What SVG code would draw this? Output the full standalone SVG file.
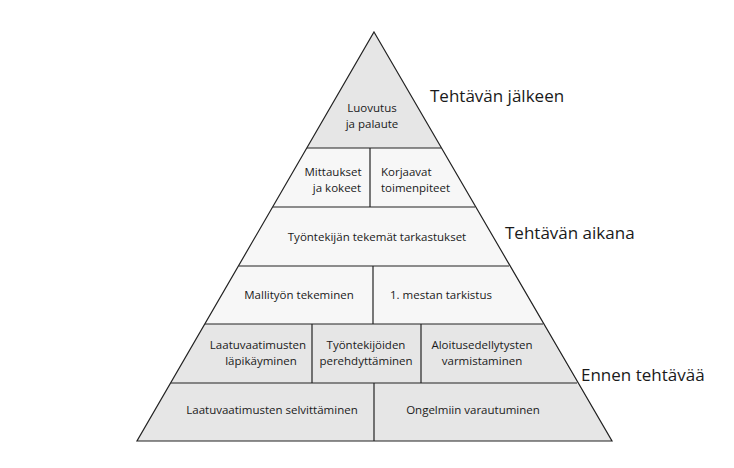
<svg xmlns="http://www.w3.org/2000/svg" width="734" height="468" viewBox="0 0 734 468">
<style>
text{font-family:"Open Sans","Liberation Sans",sans-serif;fill:#1a1a1a}
.t{font-size:11.5px;text-anchor:middle}
.s{font-size:11.5px}
.h{font-size:17px}
.d{fill:#e6e6e6}.l{fill:#f7f7f7}
.ln{stroke:#222;stroke-width:1.2;fill:none}
</style>
<rect width="734" height="468" fill="#fff"/>
<g id="bands">
<polygon class="d" points="374,32 307,148 441,148"/>
<polygon class="l" points="307,148 441,148 475,207 273,207"/>
<polygon class="l" points="273,207 475,207 509,266 239,266"/>
<polygon class="l" points="239,266 509,266 543,324 205,324"/>
<polygon class="d" points="205,324 543,324 577,383 171,383"/>
<polygon class="d" points="171,383 577,383 612,441 137,441"/>
</g>
<g id="connectors">
<polygon class="ln" points="374,32 612,441 137,441"/>
<line class="ln" x1="307" y1="148" x2="441" y2="148" stroke="#888"/>
<line class="ln" x1="273" y1="207" x2="475" y2="207"/>
<line class="ln" x1="239" y1="266" x2="509" y2="266"/>
<line class="ln" x1="205" y1="324" x2="543" y2="324"/>
<line class="ln" x1="171" y1="383" x2="577" y2="383"/>
<line class="ln" x1="370" y1="148" x2="370" y2="207"/>
<line class="ln" x1="373" y1="266" x2="373" y2="324"/>
<line class="ln" x1="312" y1="324" x2="312" y2="383"/>
<line class="ln" x1="421" y1="324" x2="421" y2="383"/>
<line class="ln" x1="374" y1="383" x2="374" y2="441"/>
</g>
<g id="n1"><text class="t" x="372" y="112">Luovutus</text><text class="t" x="372" y="128">ja palaute</text></g>
<g id="n2"><text class="t" x="333" y="176">Mittaukset</text><text class="t" x="337" y="192">ja kokeet</text></g>
<g id="n3"><text class="s" x="381" y="176">Korjaavat</text><text class="s" x="381" y="192">toimenpiteet</text></g>
<g id="n4"><text class="t" x="377" y="241">Työntekijän tekemät tarkastukset</text></g>
<g id="n5"><text class="t" x="299" y="299">Mallityön tekeminen</text></g>
<g id="n6"><text class="t" x="441" y="299">1. mestan tarkistus</text></g>
<g id="n7"><text class="t" x="258" y="349">Laatuvaatimusten</text><text class="t" x="261" y="365">läpikäyminen</text></g>
<g id="n8"><text class="t" x="366" y="349">Työntekijöiden</text><text class="t" x="366" y="365">perehdyttäminen</text></g>
<g id="n9"><text class="t" x="482" y="349">Aloitusedellytysten</text><text class="t" x="482" y="365">varmistaminen</text></g>
<g id="n10"><text class="t" x="272" y="414">Laatuvaatimusten selvittäminen</text></g>
<g id="n11"><text class="t" x="473" y="414">Ongelmiin varautuminen</text></g>
<text class="h" x="430" y="102">Tehtävän jälkeen</text>
<text class="h" x="505" y="239">Tehtävän aikana</text>
<text class="h" x="581" y="381">Ennen tehtävää</text>
</svg>
